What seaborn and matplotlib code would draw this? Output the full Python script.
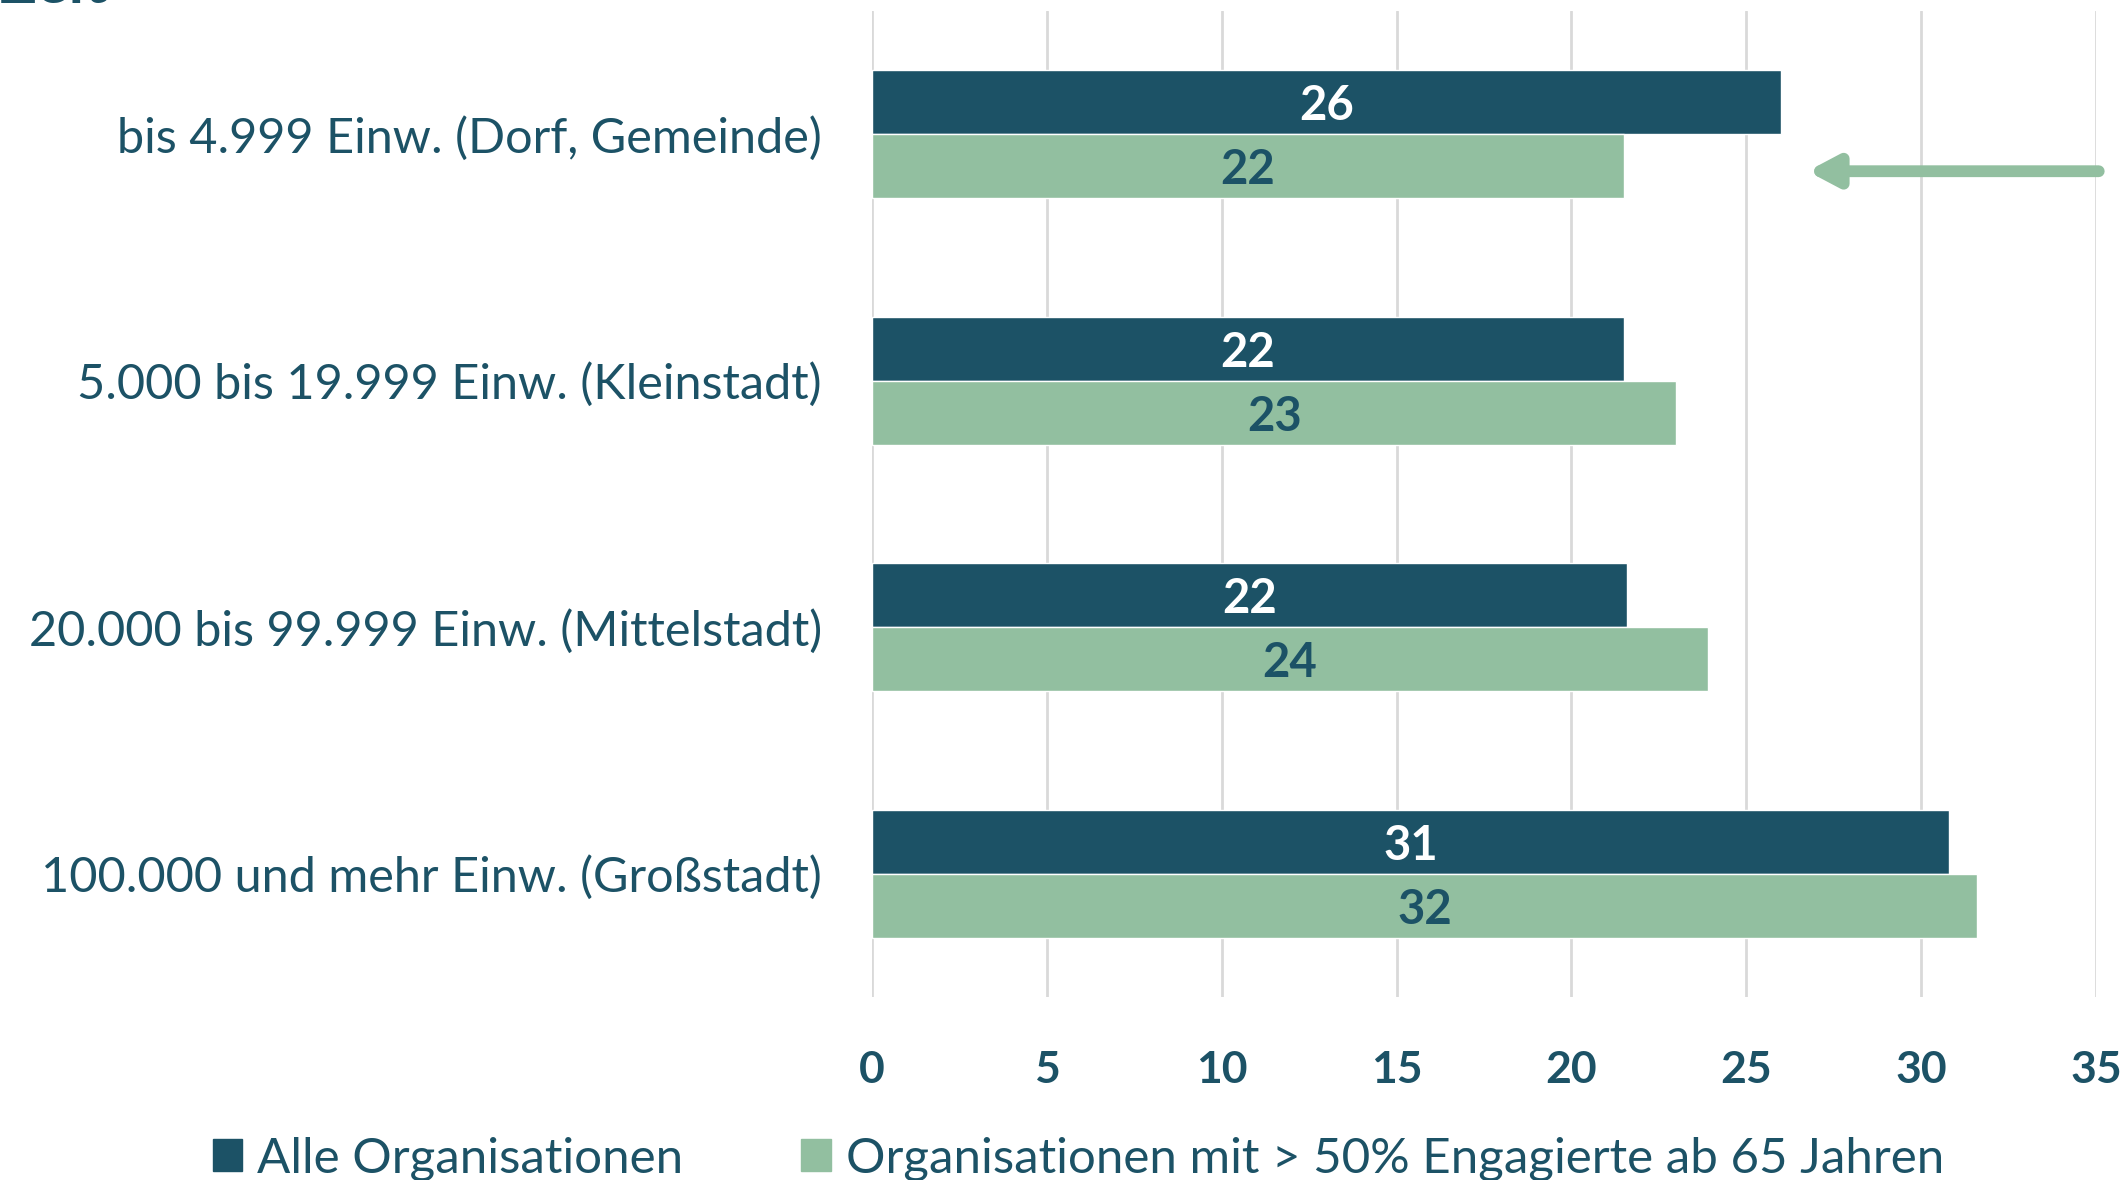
import pandas as pd
import seaborn as sns
import matplotlib.pyplot as plt

# Werte
kategorien = ['bis 4.999 Einw. (Dorf, Gemeinde)',
              '5.000 bis 19.999 Einw. (Kleinstadt)',
              '20.000 bis 99.999 Einw. (Mittelstadt)',
              '100.000 und mehr Einw. (Großstadt)']
alle = [26.0, 21.5, 21.6, 30.8]
senioren = [21.5, 23.0, 23.9, 31.6]
serien = ['Alle Organisationen', 'Organisationen mit > 50% Engagierte ab 65 Jahren']
xticks = [0, 5, 10, 15, 20, 25, 30, 35]

dunkel = '#1C5266'
hell = '#92BFA0'

df = pd.DataFrame({
    'kategorie': kategorien * 2,
    'wert': alle + senioren,
    'serie': [serien[0]] * 4 + [serien[1]] * 4,
})

sns.set_style('white')
plt.rcParams['font.family'] = ['Lato', 'DejaVu Sans']

fig = plt.figure(figsize=(21.27, 11.80), dpi=100)
ax = fig.add_axes([0.41, 0.155, 0.5754, 0.8357])

sns.barplot(data=df, y='kategorie', x='wert', hue='serie', orient='h',
            palette=[dunkel, hell], width=0.52, gap=0, saturation=1,
            errorbar=None, ax=ax, zorder=3)

ax.set_xlim(0, 35)
ax.set_ylim(3.5, -0.5)
ax.set_xticks(xticks)
ax.set_xlabel('')
ax.set_ylabel('')
sns.despine(ax=ax, left=True, bottom=True)
ax.grid(axis='x', color='#D9D9D9', linewidth=2, zorder=0)
ax.grid(axis='y', visible=False)
ax.tick_params(axis='y', length=0, pad=36, labelsize=35, labelcolor=dunkel)
ax.tick_params(axis='x', length=0, pad=38, labelsize=32, labelcolor=dunkel)
for lab in ax.get_xticklabels():
    lab.set_fontweight('bold')

# Datenbeschriftungen
for cont, farbe in zip(ax.containers, ['white', dunkel]):
    texte = ax.bar_label(cont, labels=[f'{v:.0f}' for v in cont.datavalues],
                         label_type='center', color=farbe, fontsize=34,
                         fontweight='bold')
    for t in texte:
        t.set_va('center_baseline')

# Pfeil
ax.annotate('', xy=(26.75, 0.15), xytext=(35.08, 0.15),
            arrowprops=dict(arrowstyle='-|>,head_length=1.7,head_width=0.9',
                            color=hell, lw=8.5, shrinkA=0, shrinkB=0),
            annotation_clip=False)

ax.legend_.remove()
handles = [plt.Rectangle((0, 0), 1, 1, color=dunkel),
           plt.Rectangle((0, 0), 1, 1, color=hell)]
fig.legend(handles, serien, loc='center', bbox_to_anchor=(0.507, 0.018),
           ncol=2, frameon=False, fontsize=35.5, labelcolor=dunkel,
           handlelength=0.6, handleheight=0.6, handletextpad=0.3,
           columnspacing=2.4)

# abgeschnittener Titel oben links
fig.text(0.0, 1 - 3 / 1180, 'Zeit', fontsize=44, fontweight='bold',
         color=dunkel, va='baseline', ha='left')

fig.savefig('out.png', dpi=100)
plt.close()
